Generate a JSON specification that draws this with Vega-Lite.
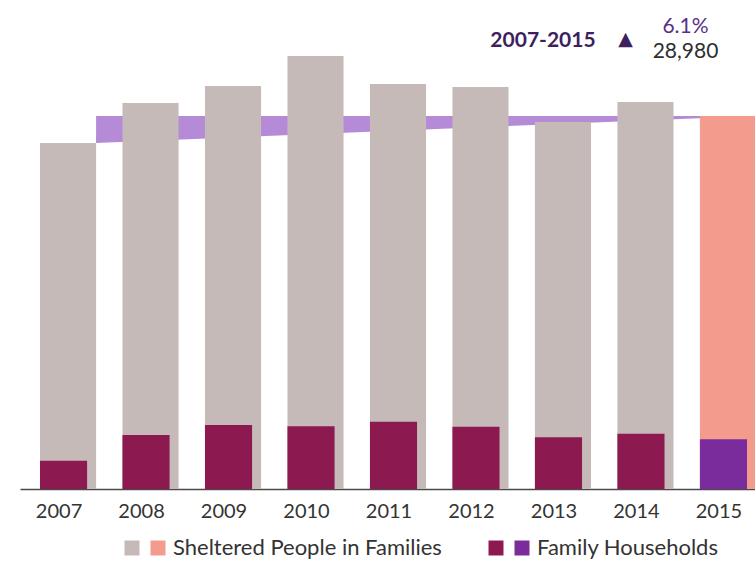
{
  "$schema": "https://vega.github.io/schema/vega-lite/v6.json",
  "autosize": {"type": "none"},
  "padding": {"left": 20, "top": 0, "right": 0, "bottom": 72},
  "width": 735,
  "height": 489,
  "background": "#ffffff",
  "config": {
    "font": "Lato",
    "view": {"stroke": null},
    "axis": {"grid": false}
  },
  "datasets": {
    "bars": [
      {"year": "2007", "measure": "people", "category": "Sheltered People in Families (2007-2014)", "value": 466100},
      {"year": "2008", "measure": "people", "category": "Sheltered People in Families (2007-2014)", "value": 520000},
      {"year": "2009", "measure": "people", "category": "Sheltered People in Families (2007-2014)", "value": 542900},
      {"year": "2010", "measure": "people", "category": "Sheltered People in Families (2007-2014)", "value": 583300},
      {"year": "2011", "measure": "people", "category": "Sheltered People in Families (2007-2014)", "value": 545600},
      {"year": "2012", "measure": "people", "category": "Sheltered People in Families (2007-2014)", "value": 541500},
      {"year": "2013", "measure": "people", "category": "Sheltered People in Families (2007-2014)", "value": 494400},
      {"year": "2014", "measure": "people", "category": "Sheltered People in Families (2007-2014)", "value": 521300},
      {"year": "2015", "measure": "people", "category": "Sheltered People in Families", "value": 502500},
      {"year": "2007", "measure": "households", "category": "Family Households (2007-2014)", "value": 38100},
      {"year": "2008", "measure": "households", "category": "Family Households (2007-2014)", "value": 72700},
      {"year": "2009", "measure": "households", "category": "Family Households (2007-2014)", "value": 86200},
      {"year": "2010", "measure": "households", "category": "Family Households (2007-2014)", "value": 84500},
      {"year": "2011", "measure": "households", "category": "Family Households (2007-2014)", "value": 90700},
      {"year": "2012", "measure": "households", "category": "Family Households (2007-2014)", "value": 83900},
      {"year": "2013", "measure": "households", "category": "Family Households (2007-2014)", "value": 69600},
      {"year": "2014", "measure": "households", "category": "Family Households (2007-2014)", "value": 74500},
      {"year": "2015", "measure": "households", "category": "Family Households", "value": 66900}
    ],
    "change": [
      {"year": "2007", "low": 466100, "high": 502500},
      {"year": "2015", "low": 502500, "high": 502500}
    ],
    "notes": [
      {"label": "2007-2015", "year": "2013", "value": 604100},
      {"label": "▲", "year": "2014", "value": 606150},
      {"label": "6.1%", "year": "2014", "value": 623000},
      {"label": "28,980", "year": "2014", "value": 589300}
    ]
  },
  "encoding": {
    "x": {
      "field": "year",
      "type": "ordinal",
      "scale": {
        "domain": ["2007", "2008", "2009", "2010", "2011", "2012", "2013", "2014", "2015"],
        "range": [0, 756],
        "paddingInner": 0.32,
        "paddingOuter": 0.2424
      },
      "axis": {
        "title": null,
        "ticks": false,
        "labelAngle": 0,
        "labelFontSize": 20,
        "labelColor": "#333333",
        "labelPadding": 12,
        "labelOffset": -9,
        "domainColor": "#4a4a4a",
        "domainWidth": 1.5
      }
    }
  },
  "layer": [
    {
      "data": {"name": "change"},
      "mark": {"type": "area", "color": "#b58bd8", "opacity": 1},
      "encoding": {
        "x": {"field": "year", "type": "ordinal", "bandPosition": 1},
        "y": {"field": "low", "type": "quantitative", "scale": {"domain": [0, 658700], "nice": false}, "axis": null},
        "y2": {"field": "high"}
      }
    },
    {
      "data": {"name": "bars"},
      "transform": [{"filter": "datum.measure == 'people'"}],
      "mark": {"type": "bar"},
      "encoding": {
        "y": {"field": "value", "type": "quantitative", "scale": {"domain": [0, 658700], "nice": false}, "axis": null},
        "color": {
          "field": "category",
          "type": "nominal",
          "scale": {
            "domain": ["Sheltered People in Families (2007-2014)", "Sheltered People in Families"],
            "range": ["#c5bab8", "#f39c8e"]
          },
          "legend": {
            "title": null,
            "orient": "none",
            "direction": "horizontal",
            "legendX": 101,
            "legendY": 537,
            "padding": 0,
            "symbolType": "square",
            "symbolSize": 225,
            "symbolStrokeWidth": 0,
            "symbolOpacity": 1,
            "labelFontSize": 22,
            "labelColor": "#333333",
            "labelOffset": 4,
            "columnPadding": -7,
            "labelLimit": 0,
            "labelExpr": "datum.label == 'Sheltered People in Families' ? datum.label : ''"
          }
        }
      }
    },
    {
      "data": {"name": "bars"},
      "transform": [{"filter": "datum.measure == 'households'"}],
      "mark": {"type": "bar", "width": {"band": 0.84}, "xOffset": -4.5},
      "encoding": {
        "y": {"field": "value", "type": "quantitative", "scale": {"domain": [0, 658700], "nice": false}, "axis": null},
        "fill": {
          "field": "category",
          "type": "nominal",
          "scale": {
            "domain": ["Family Households (2007-2014)", "Family Households"],
            "range": ["#8c1a50", "#7a2c9c"]
          },
          "legend": {
            "title": null,
            "orient": "none",
            "direction": "horizontal",
            "legendX": 465,
            "legendY": 537,
            "padding": 0,
            "symbolType": "square",
            "symbolSize": 225,
            "symbolStrokeWidth": 0,
            "symbolOpacity": 1,
            "labelFontSize": 22,
            "labelColor": "#333333",
            "labelOffset": 4,
            "columnPadding": -7,
            "labelLimit": 0,
            "labelExpr": "datum.label == 'Family Households' ? datum.label : ''"
          }
        }
      }
    },
    {
      "data": {"name": "notes"},
      "transform": [{"filter": "datum.label == '2007-2015'"}],
      "mark": {"type": "text", "fontSize": 21, "fontWeight": "bold", "color": "#3d1f5e", "align": "center", "baseline": "middle", "dx": -20},
      "encoding": {
        "y": {"field": "value", "type": "quantitative"},
        "text": {"field": "label"}
      }
    },
    {
      "data": {"name": "notes"},
      "transform": [{"filter": "datum.label == '▲'"}],
      "mark": {"type": "text", "fontSize": 19, "font": "DejaVu Sans", "color": "#3d1f5e", "align": "center", "baseline": "middle", "dx": -20},
      "encoding": {
        "y": {"field": "value", "type": "quantitative"},
        "text": {"field": "label"}
      }
    },
    {
      "data": {"name": "notes"},
      "transform": [{"filter": "datum.label == '6.1%'"}],
      "mark": {"type": "text", "fontSize": 21, "color": "#5b2f86", "align": "center", "baseline": "middle", "dx": 40},
      "encoding": {
        "y": {"field": "value", "type": "quantitative"},
        "text": {"field": "label"}
      }
    },
    {
      "data": {"name": "notes"},
      "transform": [{"filter": "datum.label == '28,980'"}],
      "mark": {"type": "text", "fontSize": 21, "color": "#2e2e2e", "align": "center", "baseline": "middle", "dx": 40},
      "encoding": {
        "y": {"field": "value", "type": "quantitative"},
        "text": {"field": "label"}
      }
    }
  ]
}
